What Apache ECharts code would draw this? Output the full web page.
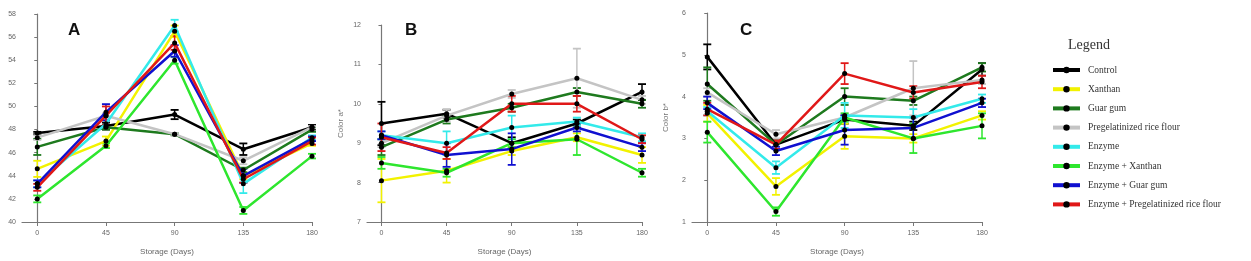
<!DOCTYPE html>
<html><head><meta charset="utf-8">
<script src="https://cdn.jsdelivr.net/npm/echarts@6/dist/echarts.min.js"></script>
<style>html,body{margin:0;padding:0;background:#fff}#c{width:1251px;height:261px}</style>
</head><body><div id="c"></div>
<script>
const days = [0, 45, 90, 135, 180];
const seriesNames = ['Control','Xanthan','Guar gum','Pregelatinized rice flour','Enzyme','Enzyme + Xanthan','Enzyme + Guar gum','Enzyme + Pregelatinized rice flour'];
const seriesColors = ['#000000','#f2f200','#1e7a1e','#c4c4c4','#33eaea','#2ee62e','#1010d0','#e01818'];

// Panel A (L*)
const panelAValues = [
  [47.7, 48.3, 49.3, 46.3, 48.2],
  [44.6, 47.0, 56.5, 44.0, 46.8],
  [46.5, 48.2, 47.6, 44.5, 48.0],
  [47.3, 49.2, 47.6, 45.3, 48.2],
  [43.3, 48.5, 57.0, 43.3, 47.3],
  [42.0, 46.6, 54.0, 41.0, 45.7],
  [43.3, 49.5, 54.8, 44.0, 47.2],
  [43.0, 49.2, 55.5, 43.7, 47.0]
];
const panelAErrors = [
  [0.1,0.3,0.4,0.5,0.2],[0.7,0.4,0.5,0.3,0.2],[0.7,0.2,0.1,0.2,0.2],[0.2,0.2,0.1,0.3,0.1],
  [0.3,0.3,0.5,0.8,0.2],[0.3,0.2,0.3,0.3,0.2],[0.3,0.7,0.5,0.6,0.2],[0.3,0.8,0.6,0.3,0.3]
];
// Panel B (a*)
const panelBValues = [
  [9.5, 9.75, 9.0, 9.5, 10.3],
  [8.05, 8.3, 8.8, 9.15, 8.7],
  [8.9, 9.6, 9.9, 10.3, 10.0],
  [9.0, 9.7, 10.25, 10.65, 10.1],
  [9.2, 9.0, 9.4, 9.55, 9.15],
  [8.5, 8.25, 9.0, 9.1, 8.25],
  [9.2, 8.7, 8.85, 9.4, 8.9],
  [9.15, 8.75, 10.0, 10.0, 9.1]
];
const panelBErrors = [
  [0.55,0.1,0.15,0.1,0.2],[0.55,0.3,0.1,0.1,0.2],[0.2,0.1,0.1,0.1,0.1],[0.1,0.15,0.1,0.75,0.1],
  [0.1,0.3,0.3,0.1,0.1],[0.15,0.1,0.1,0.4,0.1],[0.1,0.3,0.4,0.1,0.1],[0.35,0.15,0.2,0.2,0.1]
];
// Panel C (b*)
const panelCValues = [
  [4.95, 2.85, 3.45, 3.3, 4.65],
  [3.6, 1.85, 3.05, 3.0, 3.55],
  [4.3, 2.85, 4.0, 3.9, 4.7],
  [4.1, 3.1, 3.5, 4.2, 4.4],
  [3.65, 2.3, 3.55, 3.5, 3.95],
  [3.15, 1.25, 3.5, 3.0, 3.3],
  [3.85, 2.7, 3.2, 3.25, 3.85],
  [3.7, 2.85, 4.55, 4.1, 4.35]
];
const panelCErrors = [
  [0.3,0.1,0.1,0.1,0.15],[0.2,0.2,0.3,0.1,0.1],[0.4,0.1,0.2,0.1,0.1],[0.1,0.1,0.1,0.65,0.1],
  [0.1,0.15,0.3,0.2,0.1],[0.25,0.1,0.1,0.35,0.3],[0.15,0.1,0.35,0.25,0.1],[0.15,0.1,0.25,0.15,0.15]
];
const panelLetters = ['A','B','C'];
const yNames = ['', 'Color a*', 'Color b*'];
const yRanges = [[40,58,2],[7,12,1],[1,6,1]];

const panels = [[panelAValues,panelAErrors],[panelBValues,panelBErrors],[panelCValues,panelCErrors]];
const grids = [
  {left:22, top:14, width:290, height:208},
  {left:367, top:25, width:275, height:199},
  {left:692, top:13, width:290, height:209}
];
const labelFont = {fontFamily:'Liberation Sans', fontSize:7, color:'#666'};
const xAxes = [], yAxes = [], series = [], titles = [];
grids.forEach((g, i) => {
  xAxes.push({
    gridIndex:i, type:'value', min:-10, max:180,
    name:'Storage (Days)', nameLocation:'middle', nameGap:26,
    nameTextStyle:{fontFamily:'Liberation Sans', fontSize:8, color:'#666'},
    axisLine:{lineStyle:{color:'#777', width:1.2}},
    axisTick:{customValues:days, length:4, lineStyle:{color:'#777'}},
    axisLabel:{customValues:days, ...labelFont, margin:8},
    splitLine:{show:false}
  });
  yAxes.push({
    gridIndex:i, type:'value', min:yRanges[i][0], max:yRanges[i][1], interval:yRanges[i][2],
    name:yNames[i], nameLocation:'middle', nameGap:22,
    nameTextStyle:{fontFamily:'Liberation Sans', fontSize:8, color:'#777'},
    axisLine:{show:true, lineStyle:{color:'#777', width:1.2}},
    axisTick:{show:true, length:3, lineStyle:{color:'#777'}},
    axisLabel:{...labelFont, margin:6},
    splitLine:{show:false}
  });
  const [vals, errs] = panels[i];
  seriesNames.forEach((n, k) => {
    series.push({
      type:'line', name:n, xAxisIndex:i, yAxisIndex:i, z:3,
      data: days.map((d, j) => [d, vals[k][j]]),
      symbol:'circle', symbolSize:5,
      lineStyle:{color:seriesColors[k], width:2.5},
      itemStyle:{color:'#000', borderWidth:0},
      emphasis:{disabled:true}, animation:false
    });
  });
  // error bars
  seriesNames.forEach((n, k) => {
    series.push({
      type:'custom', name:n + ' (SD)', xAxisIndex:i, yAxisIndex:i, z:2, silent:true,
      itemStyle:{color:seriesColors[k]},
      data: days.map((d, j) => [d, vals[k][j]-errs[k][j], vals[k][j]+errs[k][j]]),
      renderItem:(params, api) => {
        const lo = api.coord([api.value(0), api.value(1)]);
        const hi = api.coord([api.value(0), api.value(2)]);
        const c = seriesColors[k], w = 4;
        return {type:'group', children:[
          {type:'line', shape:{x1:lo[0],y1:lo[1],x2:hi[0],y2:hi[1]}, style:{stroke:c, lineWidth:1.5}},
          {type:'line', shape:{x1:lo[0]-w,y1:lo[1],x2:lo[0]+w,y2:lo[1]}, style:{stroke:c, lineWidth:1.8}},
          {type:'line', shape:{x1:hi[0]-w,y1:hi[1],x2:hi[0]+w,y2:hi[1]}, style:{stroke:c, lineWidth:1.8}}
        ]};
      }
    });
  });
});
const letterPos = [[70,27],[407,27],[742,27]];
panelLetters.forEach((l, i) => titles.push({
  text:l, left:letterPos[i][0]-7, top:letterPos[i][1]-10,
  textStyle:{fontFamily:'Liberation Sans', fontWeight:'bold', fontSize:17, color:'#111'}
}));
titles.push({text:'Legend', left:1063, top:33, textStyle:{fontFamily:'Liberation Serif', fontWeight:'normal', fontSize:14, color:'#333'}});

const chart = echarts.init(document.getElementById('c'), null, {renderer:'canvas'});
chart.setOption({
  animation:false,
  color:seriesColors,
  title:titles,
  grid:grids,
  xAxis:xAxes,
  yAxis:yAxes,
  legend:{
    data:seriesNames.map((n,k)=>({name:n, itemStyle:{color:'#000'}, lineStyle:{color:seriesColors[k], width:4}})),
    orient:'vertical', left:1046, top:60, itemWidth:27, itemHeight:8, itemGap:9.2,
    selectedMode:false,
    textStyle:{fontFamily:'Liberation Serif', fontSize:9.5, color:'#333', padding:[0,0,0,3]}
  },
  series:series
});
</script></body></html>
